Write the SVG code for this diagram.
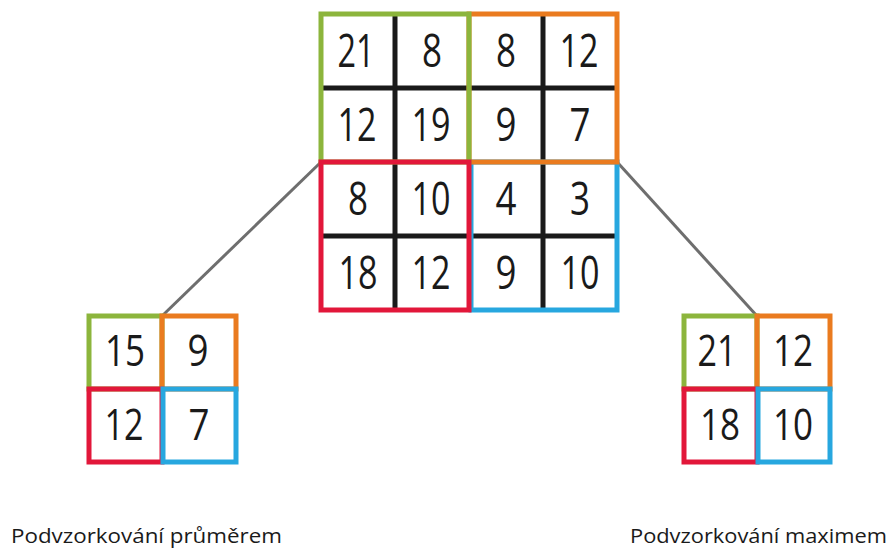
<svg xmlns="http://www.w3.org/2000/svg" width="894" height="550" viewBox="0 0 894 550">
  <style>
    .bg { fill: #ffffff; }
    .grid { stroke: #1a1a1a; stroke-width: 5; fill: none; }
    .blk { fill: none; stroke-width: 5; }
    .green { stroke: #8cb53c; }
    .orange { stroke: #ea7b1f; }
    .red { stroke: #e2173a; }
    .blue { stroke: #27a7df; }
    .num { font-family: "Open Sans", "Liberation Sans", sans-serif; font-size: 46px; fill: #1a1a1a; text-anchor: middle; }
    .sm { font-size: 43px; }
    .link { stroke: #6e6e6e; stroke-width: 3; fill: none; }
    .label { font-family: "Open Sans", "Liberation Sans", sans-serif; font-size: 20px; fill: #1a1a1a; }
  </style>
  <rect class="bg" x="0" y="0" width="894" height="550"/>

  <!-- connectors from the input grid to the pooled results -->
  <g id="connectors">
    <line class="link" x1="320" y1="163" x2="162" y2="316"/>
    <line class="link" x1="618" y1="163" x2="757" y2="316"/>
  </g>

  <!-- 4x4 input feature map -->
  <g id="input-grid">
    <line class="grid" x1="395" y1="14" x2="395" y2="310"/>
    <line class="grid" x1="543" y1="14" x2="543" y2="310"/>
    <line class="grid" x1="321" y1="88" x2="617" y2="88"/>
    <line class="grid" x1="321" y1="236" x2="617" y2="236"/>
    <rect class="blk blue" x="471" y="162" width="146" height="148"/>
    <rect class="blk orange" x="469" y="14" width="148" height="148"/>
    <rect class="blk green" x="321" y="14" width="148" height="148"/>
    <rect class="blk red" x="321" y="162" width="148" height="148"/>
    <text class="num" x="356" y="67" textLength="37" lengthAdjust="spacingAndGlyphs">21</text>
    <text class="num" x="432" y="67" textLength="20" lengthAdjust="spacingAndGlyphs">8</text>
    <text class="num" x="506" y="67" textLength="20" lengthAdjust="spacingAndGlyphs">8</text>
    <text class="num" x="579" y="67" textLength="39" lengthAdjust="spacingAndGlyphs">12</text>
    <text class="num" x="357" y="141" textLength="39" lengthAdjust="spacingAndGlyphs">12</text>
    <text class="num" x="431" y="141" textLength="39" lengthAdjust="spacingAndGlyphs">19</text>
    <text class="num" x="506" y="141" textLength="21" lengthAdjust="spacingAndGlyphs">9</text>
    <text class="num" x="580" y="141" textLength="21" lengthAdjust="spacingAndGlyphs">7</text>
    <text class="num" x="358" y="215" textLength="20" lengthAdjust="spacingAndGlyphs">8</text>
    <text class="num" x="431" y="215" textLength="39" lengthAdjust="spacingAndGlyphs">10</text>
    <text class="num" x="506" y="215" textLength="21" lengthAdjust="spacingAndGlyphs">4</text>
    <text class="num" x="580" y="215" textLength="20" lengthAdjust="spacingAndGlyphs">3</text>
    <text class="num" x="358" y="289" textLength="39" lengthAdjust="spacingAndGlyphs">18</text>
    <text class="num" x="431" y="289" textLength="39" lengthAdjust="spacingAndGlyphs">12</text>
    <text class="num" x="506" y="289" textLength="21" lengthAdjust="spacingAndGlyphs">9</text>
    <text class="num" x="580" y="289" textLength="39" lengthAdjust="spacingAndGlyphs">10</text>
  </g>

  <!-- average pooling result -->
  <g id="avg-pool">
    <rect class="blk green" x="89" y="316" width="73" height="73"/>
    <rect class="blk orange" x="162" y="316" width="74" height="73"/>
    <rect class="blk red" x="89" y="389" width="73" height="73"/>
    <rect class="blk blue" x="163" y="389" width="73" height="73"/>
    <text class="num sm" x="125" y="366" textLength="40" lengthAdjust="spacingAndGlyphs">15</text>
    <text class="num sm" x="198" y="366" textLength="21" lengthAdjust="spacingAndGlyphs">9</text>
    <text class="num sm" x="124" y="440" textLength="39" lengthAdjust="spacingAndGlyphs">12</text>
    <text class="num sm" x="199" y="440" textLength="21" lengthAdjust="spacingAndGlyphs">7</text>
  </g>

  <!-- max pooling result -->
  <g id="max-pool">
    <rect class="blk green" x="684" y="316" width="73" height="73"/>
    <rect class="blk orange" x="757" y="316" width="73" height="73"/>
    <rect class="blk red" x="684" y="389" width="73" height="73"/>
    <rect class="blk blue" x="758" y="389" width="72" height="73"/>
    <text class="num sm" x="717" y="366" textLength="39" lengthAdjust="spacingAndGlyphs">21</text>
    <text class="num sm" x="793" y="366" textLength="40" lengthAdjust="spacingAndGlyphs">12</text>
    <text class="num sm" x="720" y="440" textLength="40" lengthAdjust="spacingAndGlyphs">18</text>
    <text class="num sm" x="793" y="440" textLength="40" lengthAdjust="spacingAndGlyphs">10</text>
  </g>

  <g id="labels">
    <text class="label" x="11" y="543" textLength="271" lengthAdjust="spacingAndGlyphs">Podvzorkování průměrem</text>
    <text class="label" x="630" y="543" textLength="257" lengthAdjust="spacingAndGlyphs">Podvzorkování maximem</text>
  </g>
</svg>
